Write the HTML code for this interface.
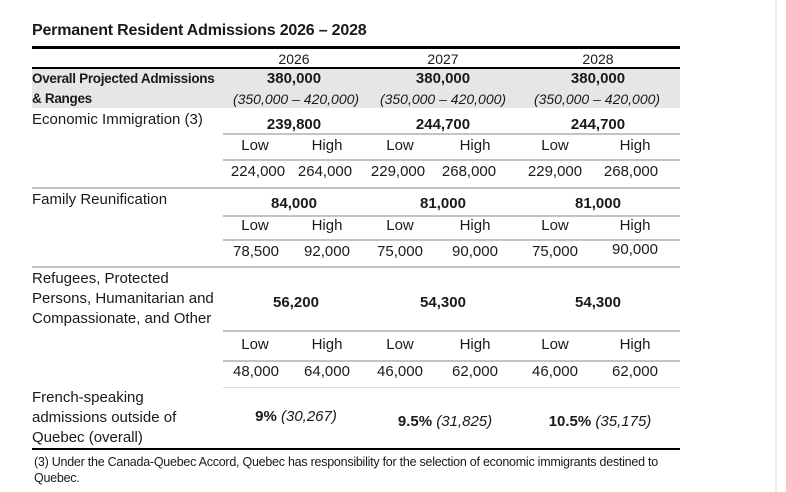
<!DOCTYPE html>
<html><head><meta charset="utf-8"><style>
body{margin:0;width:786px;height:492px;background:#fff;position:relative;overflow:hidden;font-family:"Liberation Sans",sans-serif;color:#1a1a1a}
.t{position:absolute;white-space:nowrap;font-size:15px;line-height:18px}
.c{transform:translateX(-50%)}
.b{font-weight:bold}
.i{font-style:italic}
.l{position:absolute;height:2px;background:#c4c4c4}
</style></head><body>
<div style="position:absolute;left:775px;top:0;width:2px;height:492px;background:#eee"></div>
<div class="t b" style="left:32px;top:22px;font-size:16px;letter-spacing:-0.2px">Permanent Resident Admissions 2026 – 2028</div>
<div style="position:absolute;left:32px;top:46px;width:648px;height:3px;background:#000"></div>
<div class="t c" style="left:294px;top:50px;font-size:14px">2026</div>
<div class="t c" style="left:443px;top:50px;font-size:14px">2027</div>
<div class="t c" style="left:598px;top:50px;font-size:14px">2028</div>
<div style="position:absolute;left:32px;top:69px;width:648px;height:39px;background:#e6e6e6"></div>
<div style="position:absolute;left:32px;top:67px;width:648px;height:2px;background:#000"></div>
<div class="t b" style="left:32px;top:70px;font-size:13.5px;letter-spacing:-0.3px">Overall Projected Admissions</div>
<div class="t b" style="left:32px;top:90px;font-size:13.5px;letter-spacing:-0.3px">&amp; Ranges</div>
<div class="t c b" style="left:294px;top:70px">380,000</div>
<div class="t c b" style="left:443px;top:70px">380,000</div>
<div class="t c b" style="left:598px;top:70px">380,000</div>
<div class="t c i" style="left:296px;top:90px;font-size:14px">(350,000 – 420,000)</div>
<div class="t c i" style="left:443px;top:90px;font-size:14px">(350,000 – 420,000)</div>
<div class="t c i" style="left:597px;top:90px;font-size:14px">(350,000 – 420,000)</div>

<div class="t" style="left:32px;top:111px">Economic Immigration (3)</div>
<div class="t c b" style="left:294px;top:116px">239,800</div>
<div class="t c b" style="left:443px;top:116px">244,700</div>
<div class="t c b" style="left:598px;top:116px">244,700</div>
<div class="l" style="left:223px;top:133px;width:457px"></div>
<div class="t c" style="left:255px;top:137px">Low</div><div class="t c" style="left:327px;top:137px">High</div>
<div class="t c" style="left:400px;top:137px">Low</div><div class="t c" style="left:475px;top:137px">High</div>
<div class="t c" style="left:555px;top:137px">Low</div><div class="t c" style="left:635px;top:137px">High</div>
<div class="l" style="left:223px;top:159px;width:457px"></div>
<div class="t c" style="left:258px;top:163px">224,000</div><div class="t c" style="left:325px;top:163px">264,000</div>
<div class="t c" style="left:398px;top:163px">229,000</div><div class="t c" style="left:469px;top:163px">268,000</div>
<div class="t c" style="left:555px;top:163px">229,000</div><div class="t c" style="left:631px;top:163px">268,000</div>
<div class="l" style="left:32px;top:187px;width:648px"></div>

<div class="t" style="left:32px;top:191px">Family Reunification</div>
<div class="t c b" style="left:294px;top:195px">84,000</div>
<div class="t c b" style="left:443px;top:195px">81,000</div>
<div class="t c b" style="left:598px;top:195px">81,000</div>
<div class="l" style="left:223px;top:215px;width:457px"></div>
<div class="t c" style="left:255px;top:217px">Low</div><div class="t c" style="left:327px;top:217px">High</div>
<div class="t c" style="left:400px;top:217px">Low</div><div class="t c" style="left:475px;top:217px">High</div>
<div class="t c" style="left:555px;top:217px">Low</div><div class="t c" style="left:635px;top:217px">High</div>
<div class="l" style="left:223px;top:239px;width:457px"></div>
<div class="t c" style="left:256px;top:243px">78,500</div><div class="t c" style="left:327px;top:243px">92,000</div>
<div class="t c" style="left:400px;top:243px">75,000</div><div class="t c" style="left:475px;top:243px">90,000</div>
<div class="t c" style="left:555px;top:243px">75,000</div><div class="t c" style="left:635px;top:241px">90,000</div>
<div class="l" style="left:32px;top:266px;width:648px"></div>

<div class="t" style="left:32px;top:270px">Refugees, Protected</div>
<div class="t" style="left:32px;top:290px">Persons, Humanitarian and</div>
<div class="t" style="left:32px;top:310px">Compassionate, and Other</div>
<div class="t c b" style="left:296px;top:294px">56,200</div>
<div class="t c b" style="left:443px;top:294px">54,300</div>
<div class="t c b" style="left:598px;top:294px">54,300</div>
<div class="l" style="left:223px;top:330px;width:457px"></div>
<div class="t c" style="left:255px;top:336px">Low</div><div class="t c" style="left:327px;top:336px">High</div>
<div class="t c" style="left:400px;top:336px">Low</div><div class="t c" style="left:475px;top:336px">High</div>
<div class="t c" style="left:555px;top:336px">Low</div><div class="t c" style="left:635px;top:336px">High</div>
<div class="l" style="left:223px;top:360px;width:457px"></div>
<div class="t c" style="left:256px;top:363px">48,000</div><div class="t c" style="left:327px;top:363px">64,000</div>
<div class="t c" style="left:400px;top:363px">46,000</div><div class="t c" style="left:475px;top:363px">62,000</div>
<div class="t c" style="left:555px;top:363px">46,000</div><div class="t c" style="left:635px;top:363px">62,000</div>
<div class="l" style="left:223px;top:387px;width:457px;height:1px;background:#ddd"></div>

<div class="t" style="left:32px;top:389px">French-speaking</div>
<div class="t" style="left:32px;top:409px">admissions outside of</div>
<div class="t" style="left:32px;top:429px">Quebec (overall)</div>
<div class="t c" style="left:296px;top:408px"><b>9%</b> <i>(30,267)</i></div>
<div class="t c" style="left:445px;top:413px"><b>9.5%</b> <i>(31,825)</i></div>
<div class="t c" style="left:600px;top:413px"><b>10.5%</b> <i>(35,175)</i></div>
<div style="position:absolute;left:32px;top:448px;width:648px;height:2px;background:#000"></div>
<div class="t" style="left:34px;top:453px;font-size:12.5px;letter-spacing:-0.25px">(3) Under the Canada-Quebec Accord, Quebec has responsibility for the selection of economic immigrants destined to</div>
<div class="t" style="left:34px;top:469px;font-size:12.5px;letter-spacing:-0.25px">Quebec.</div>
</body></html>
